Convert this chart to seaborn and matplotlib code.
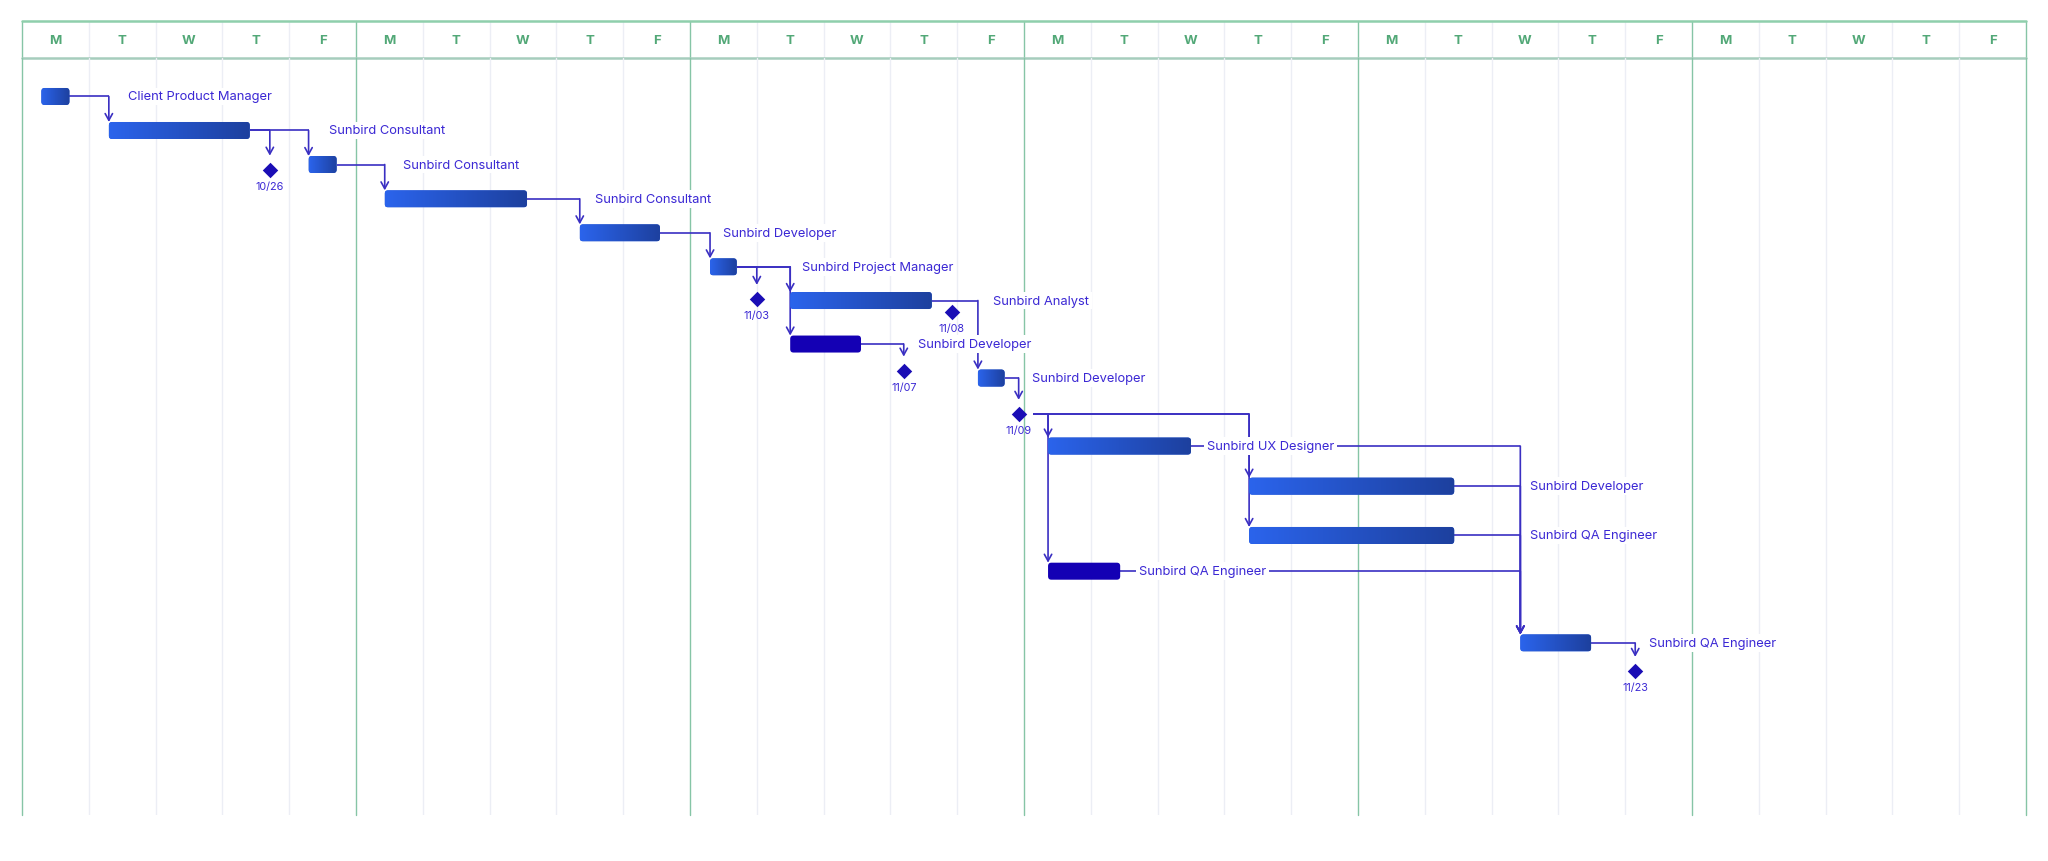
import numpy as np
import matplotlib
matplotlib.use("Agg")
import matplotlib.pyplot as plt
import seaborn as sns
from matplotlib.patches import FancyBboxPatch
from matplotlib.colors import LinearSegmentedColormap

sns.set_theme(style="white")
plt.rcParams['font.family'] = ['Inter', 'DejaVu Sans']

# tasks: start / end in working days from the first Monday, row = vertical slot
task_roles = ["Client Product Manager", "Sunbird Consultant", "Sunbird Consultant",
              "Sunbird Consultant", "Sunbird Developer", "Sunbird Project Manager",
              "Sunbird Analyst", "Sunbird Developer", "Sunbird Developer",
              "Sunbird UX Designer", "Sunbird Developer", "Sunbird QA Engineer",
              "Sunbird QA Engineer", "Sunbird QA Engineer"]
task_start = [0.29, 1.30, 4.29, 5.43, 8.35, 10.30, 11.50, 11.50, 14.31,
              15.36, 18.37, 18.37, 15.36, 22.43]
task_end = [0.71, 3.41, 4.71, 7.56, 9.55, 10.70, 13.62, 12.56, 14.71,
            17.50, 21.44, 21.44, 16.44, 23.49]
task_row = [0, 1, 2, 3.01, 4.01, 5.01, 6.0, 7.28, 8.28,
            10.28, 11.46, 12.91, 13.96, 16.07]
task_dark = [False, False, False, False, False, False, False, True, False,
             False, False, False, True, False]

milestone_dates = ["10/26", "11/03", "11/08", "11/07", "11/09", "11/23"]
milestone_day = [3.71, 11.0, 13.92, 13.2, 14.92, 24.15]
milestone_row = [2.16, 5.96, 6.34, 8.07, 9.34, 16.9]

day_letters = ["M", "T", "W", "T", "F"]
n_weeks = 6

# dependencies: ("t", i) = task, ("m", j) = milestone
links = [(("t", 0), ("t", 1)), (("t", 1), ("m", 0)), (("t", 1), ("t", 2)),
         (("t", 2), ("t", 3)), (("t", 3), ("t", 4)), (("t", 4), ("t", 5)),
         (("t", 5), ("m", 1)), (("t", 5), ("t", 6)), (("t", 5), ("t", 7)),
         (("t", 6), ("t", 8)), (("t", 7), ("m", 3)), (("t", 8), ("m", 4)),
         (("m", 4), ("t", 9)), (("m", 4), ("t", 12)), (("m", 4), ("t", 10)),
         (("m", 4), ("t", 11)), (("t", 9), ("t", 13)), (("t", 10), ("t", 13)),
         (("t", 11), ("t", 13)), (("t", 12), ("t", 13)), (("t", 13), ("m", 5))]

# layout: gap (days) between bar end and its label
label_gap = [0.88, 1.19, 0.99, 1.02, 0.94, 0.98, 0.92, 0.85, 0.41,
             0.24, 1.13, 1.13, 0.28, 0.87]

LINE = "#3a2fc2"
TEXT = "#3b28d4"
MILE = "#1a0db5"
DARK = "#1400b4"
GREEN = "#86c5a6"
HEAD_TXT = "#52a877"
DAYLINE = "#eceef5"
grad = LinearSegmentedColormap.from_list("bar", ["#2b64ec", "#1d409e"])

W, H = 2048, 862
fig = plt.figure(figsize=(W / 100, H / 100), dpi=100)
fig.patch.set_facecolor("white")

n_days = 5 * n_weeks
left, right = 22 / W, 2026 / W
hax = fig.add_axes([left, (H - 59) / H, right - left, 37 / H])
ax = fig.add_axes([left, (H - 816) / H, right - left, 757 / H])

# header
hax.set_xlim(0, n_days)
hax.set_ylim(0, 1)
hax.axis("off")
for d in range(n_days):
    hax.text(d + 0.5, 0.5, day_letters[d % 5], ha="center", va="center",
             color=HEAD_TXT, fontsize=9.5, fontweight="bold")
for d in range(1, n_days):
    if d % 5:
        hax.axvline(d, color=DAYLINE, lw=1)
for d in range(0, n_days + 1, 5):
    hax.axvline(d, color=GREEN, lw=1.0, clip_on=False)
hax.axhline(1, color="#8fcfac", lw=1.8, clip_on=False)
hax.axhline(0, color="#a6cdbd", lw=1.8, clip_on=False)

# body
ax.set_xlim(0, n_days)
ax.set_ylim(21.13, -1.132)
ax.axis("off")
for d in range(1, n_days):
    if d % 5:
        ax.axvline(d, color=DAYLINE, lw=1, zorder=0)
for d in range(0, n_days + 1, 5):
    ax.axvline(d, color=GREEN, lw=1.0, zorder=0, clip_on=False)

bh = 0.5
aspect = (n_days / 2004) / (22.262 / 757)


def source_point(node):
    kind, i = node
    if kind == "t":
        return task_end[i], task_row[i]
    return milestone_day[i] + 0.21, milestone_row[i]


def target_point(node):
    kind, i = node
    if kind == "t":
        return task_start[i], task_row[i] - bh / 2
    return milestone_day[i], milestone_row[i] - 0.42


for src, dst in links:
    x0, y0 = source_point(src)
    x1, y1 = target_point(dst)
    ax.plot([x0, x1], [y0, y0], color=LINE, lw=1.2, zorder=2,
            solid_capstyle="butt")
    ax.annotate("", xy=(x1, y1), xytext=(x1, y0),
                arrowprops=dict(arrowstyle="->,head_length=0.4,head_width=0.22",
                                color=LINE, lw=1.2, shrinkA=0, shrinkB=0),
                zorder=2)

gradient = np.linspace(0, 1, 256).reshape(1, -1)
for i in range(len(task_roles)):
    x0, x1, r = task_start[i], task_end[i], task_row[i]
    patch = FancyBboxPatch((x0, r - bh / 2), x1 - x0, bh,
                           boxstyle="round,pad=0,rounding_size=0.05",
                           mutation_aspect=1 / aspect,
                           facecolor=DARK if task_dark[i] else "#2556d0",
                           edgecolor="none", zorder=3)
    ax.add_patch(patch)
    if not task_dark[i]:
        im = ax.imshow(gradient, cmap=grad, aspect="auto", zorder=3.5,
                       extent=(x0, x1, r + bh / 2, r - bh / 2))
        im.set_clip_path(patch)
    ax.text(x1 + label_gap[i], r, task_roles[i], ha="left", va="center",
            color=TEXT, fontsize=9.3, zorder=4,
            bbox=dict(facecolor="white", edgecolor="none", pad=2))

sns.scatterplot(x=milestone_day, y=milestone_row, marker="D", s=62,
                color=MILE, linewidth=0, ax=ax, zorder=5)
for d, x, r in zip(milestone_dates, milestone_day, milestone_row):
    ax.text(x, r + 0.48, d, ha="center", va="center", color=TEXT,
            fontsize=7.8, zorder=5)

ax.set_xlim(0, n_days)
ax.set_ylim(21.13, -1.132)
ax.set_xlabel("")
ax.set_ylabel("")

fig.savefig("out.png", dpi=100)
